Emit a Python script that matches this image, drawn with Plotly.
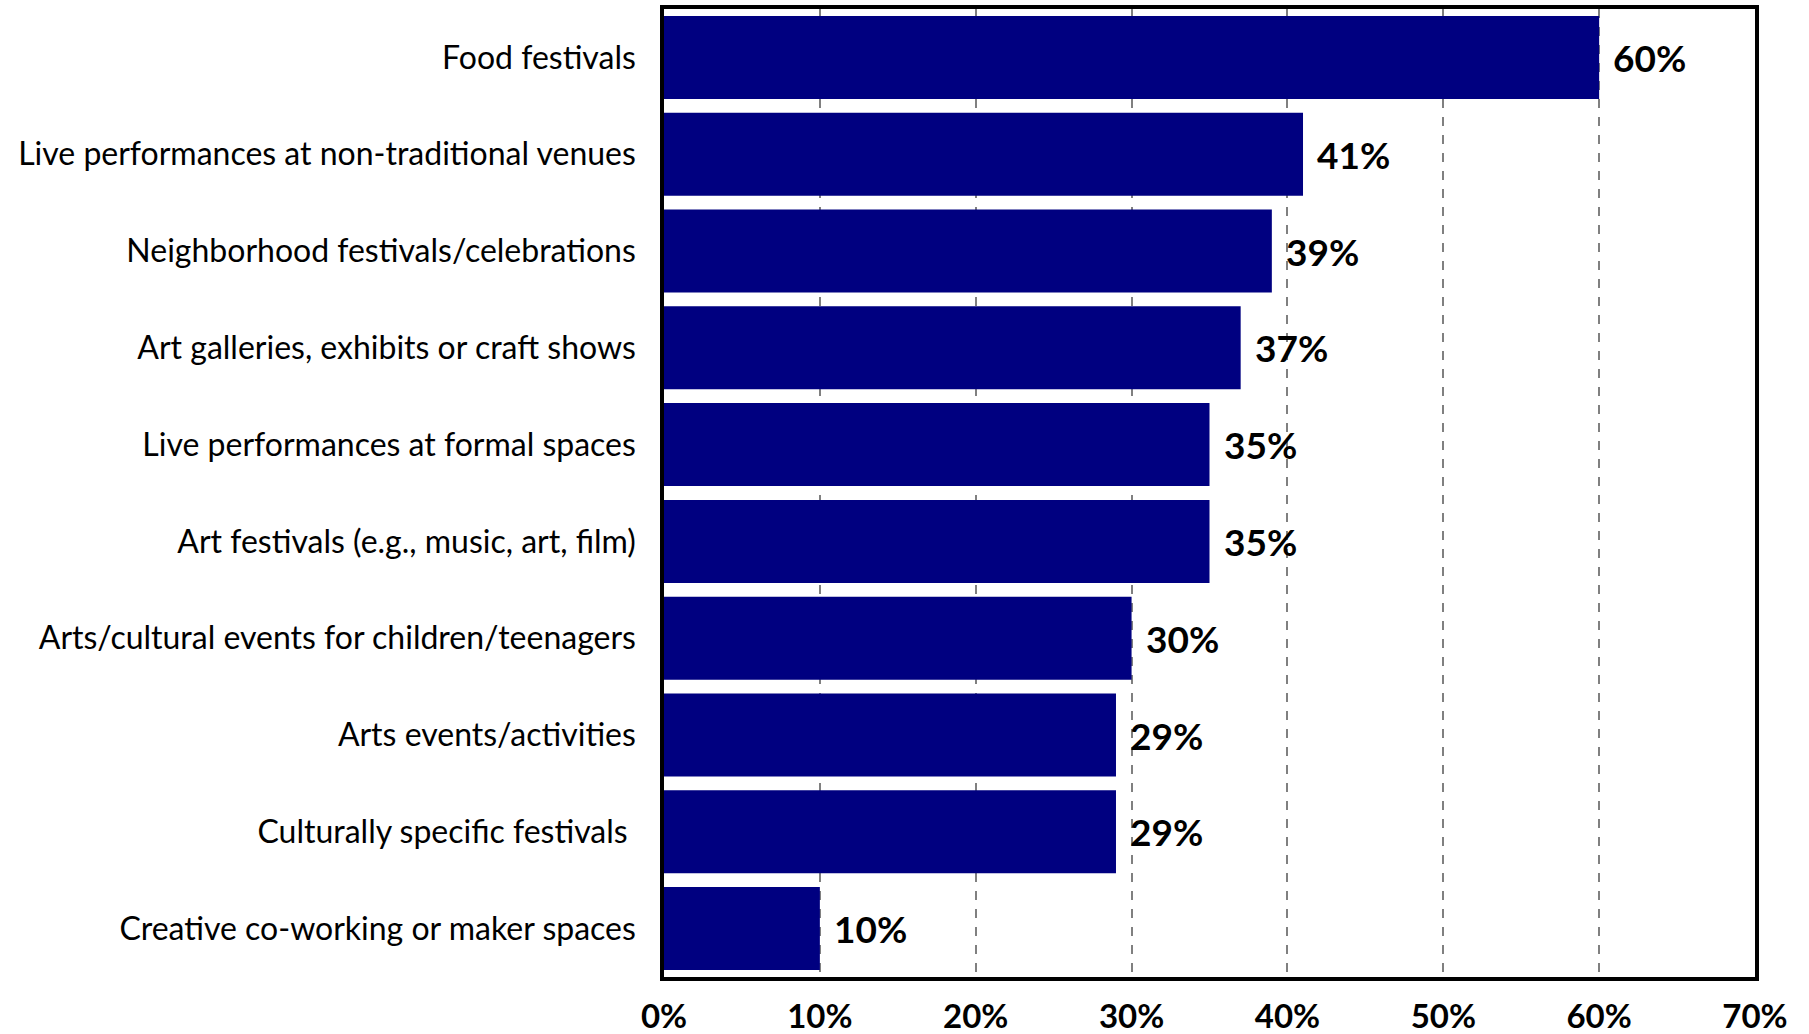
import plotly.graph_objects as go

categories = [
    "Food festivals",
    "Live performances at non-traditional venues",
    "Neighborhood festivals/celebrations",
    "Art galleries, exhibits or craft shows",
    "Live performances at formal spaces",
    "Art festivals (e.g., music, art, film)",
    "Arts/cultural events for children/teenagers",
    "Arts events/activities",
    "Culturally specific festivals ",
    "Creative co-working or maker spaces",
]
values = [0.60, 0.41, 0.39, 0.37, 0.35, 0.35, 0.30, 0.29, 0.29, 0.10]
x_ticks = [0, 0.1, 0.2, 0.3, 0.4, 0.5, 0.6, 0.7]
x_tick_labels = ["0%", "10%", "20%", "30%", "40%", "50%", "60%", "70%"]

FONT = "Lato"
NAVY = "#000080"

fig = go.Figure(
    go.Bar(
        x=values,
        y=categories,
        orientation="h",
        marker=dict(color=NAVY, line=dict(width=0)),
        hoverinfo="skip",
    )
)

# value labels to the right of each bar
for cat, val in zip(categories, values):
    fig.add_annotation(
        x=val, y=cat, text=f"{val:.0%}",
        xanchor="left", yanchor="middle", xshift=12, showarrow=False,
        font=dict(family=FONT, size=37, color="black", weight="bold"),
    )

fig.update_layout(
    width=1809, height=1034,
    margin=dict(l=664, r=54, t=9, b=57),
    paper_bgcolor="white", plot_bgcolor="white",
    bargap=0.143,
    showlegend=False,
)
fig.update_xaxes(
    range=[0, 0.7],
    tickvals=x_ticks, ticktext=x_tick_labels,
    tickfont=dict(family=FONT, size=33, color="black", weight="bold"),
    showgrid=True, gridcolor="#808080", gridwidth=1.5, griddash="dash",
    zeroline=False,
    showline=True, linecolor="black", linewidth=3.5, mirror=True,
    ticks="", ticklabelstandoff=8, automargin=False,
)
fig.update_yaxes(
    autorange="reversed",
    tickfont=dict(family=FONT, size=32, color="black"),
    showgrid=False, zeroline=False,
    showline=True, linecolor="black", linewidth=3.5, mirror=True,
    ticks="", ticklabelstandoff=18, automargin=False,
)

fig.write_html("out.html")
